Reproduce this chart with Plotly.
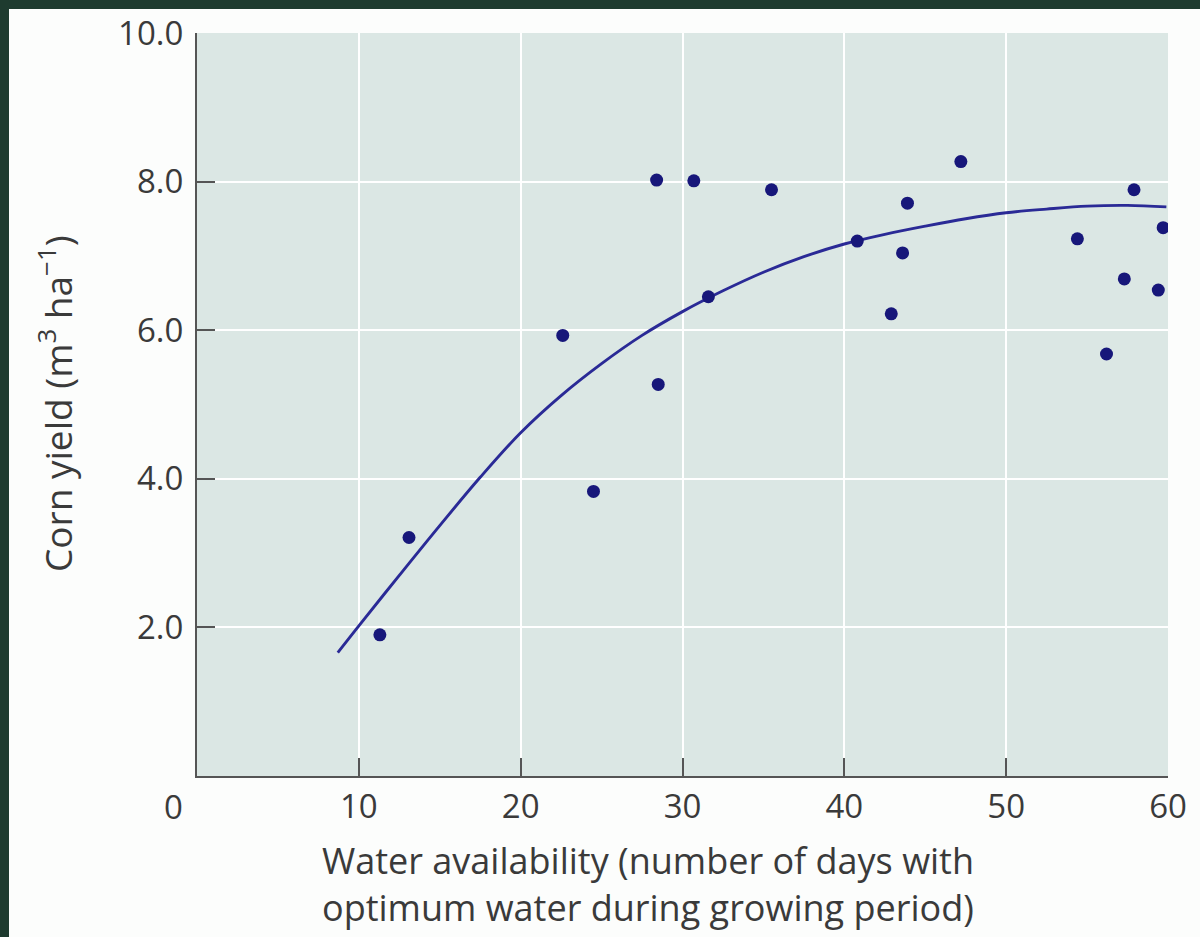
import plotly.graph_objects as go

# Observed data points (water availability days, corn yield)
obs_x = [11.3, 13.1, 22.6, 24.5, 28.4, 28.5, 30.7, 31.6, 35.5, 40.8,
         42.9, 43.6, 43.9, 47.2, 54.4, 56.2, 57.3, 57.9, 59.4, 59.7]
obs_y = [1.90, 3.21, 5.93, 3.83, 8.02, 5.27, 8.01, 6.45, 7.89, 7.20,
         6.22, 7.04, 7.71, 8.27, 7.23, 5.68, 6.69, 7.89, 6.54, 7.38]

# Fitted curve
fit_x = [8.7, 10.0, 12.5, 15.0, 17.5, 20.0, 22.5, 25.0, 27.5, 30.0, 32.5,
         35.0, 37.5, 40.0, 42.5, 45.0, 47.5, 50.0, 52.5, 55.0, 57.5, 59.9]
fit_y = [1.66, 2.02, 2.70, 3.37, 4.02, 4.62, 5.12, 5.55, 5.93, 6.25, 6.53,
         6.78, 6.99, 7.16, 7.29, 7.40, 7.50, 7.58, 7.63, 7.67, 7.68, 7.66]

x_ticks = [10, 20, 30, 40, 50, 60]
x_tick_labels = ["10", "20", "30", "40", "50", "60"]
y_ticks = [2, 4, 6, 8, 10]
y_tick_labels = ["2.0", "4.0", "6.0", "8.0", "10.0"]

x_title = "Water availability (number of days with<br>optimum water during growing period)"
y_title = "Corn yield (m<sup>3</sup> ha<sup>\u22121</sup>)"

FONT = "Open Sans, Noto Sans, DejaVu Sans, sans-serif"
TXT = "#3a3a3a"
AX = "#555555"
W, H = 1200, 937
L, R, T, B = 197, 32, 33, 161
PW, PH = W - L - R, H - T - B

fig = go.Figure()
fig.add_trace(go.Scatter(
    x=fit_x, y=fit_y, mode="lines", line=dict(color="#2a2a96", width=2.9, shape="spline"),
    hoverinfo="skip", showlegend=False))
fig.add_trace(go.Scatter(
    x=obs_x, y=obs_y, mode="markers",
    marker=dict(color="#17177a", size=13, line=dict(width=0)),
    showlegend=False))

def px_x(p):
    return (p - L) / PW

def px_y(p):
    return 1 - (p - T) / PH

shapes = [
    # dark page border (left and top strips)
    dict(type="rect", xref="paper", yref="paper", x0=px_x(-2), x1=px_x(9), y0=px_y(H + 2), y1=px_y(-2),
         fillcolor="#1e3b2f", line=dict(width=0), layer="above"),
    dict(type="rect", xref="paper", yref="paper", x0=px_x(-2), x1=px_x(W + 2), y0=px_y(9), y1=px_y(-2),
         fillcolor="#1e3b2f", line=dict(width=0), layer="above"),
]

annotations = [
    dict(text="0", x=px_x(173), y=px_y(806), xref="paper", yref="paper", showarrow=False,
         xanchor="center", yanchor="middle", font=dict(size=33, color=TXT, family=FONT)),
    dict(text=y_title, x=px_x(55), y=px_y(404),
         xref="paper", yref="paper", showarrow=False, textangle=-90,
         xanchor="center", yanchor="middle", font=dict(size=37, color=TXT, family=FONT)),
    dict(text=x_title, x=px_x(320), y=px_y(884), xref="paper", yref="paper",
         showarrow=False, xanchor="left", yanchor="middle", align="left",
         font=dict(size=36, color=TXT, family=FONT)),
]

fig.update_layout(
    width=W, height=H,
    margin=dict(l=L, r=R, t=T, b=B, autoexpand=False),
    paper_bgcolor="#fcfdfc",
    plot_bgcolor="#dbe7e4",
    font=dict(family=FONT, color=TXT, size=33),
    shapes=shapes,
    annotations=annotations,
    xaxis=dict(range=[0, 60], tickvals=x_ticks, ticktext=x_tick_labels,
               showgrid=True, gridcolor="white", gridwidth=2,
               showline=True, linecolor=AX, linewidth=2,
               ticks="inside", ticklen=18, tickwidth=2, tickcolor=AX,
               ticklabelstandoff=0, zeroline=False, automargin=False,
               tickfont=dict(size=33, color=TXT, family=FONT)),
    yaxis=dict(range=[0, 10], tickvals=y_ticks, ticktext=y_tick_labels,
               showgrid=True, gridcolor="white", gridwidth=2,
               showline=True, linecolor=AX, linewidth=2,
               ticks="inside", ticklen=18, tickwidth=2, tickcolor=AX,
               ticklabelstandoff=5, zeroline=False, automargin=False,
               tickfont=dict(size=33, color=TXT, family=FONT)),
)

fig.write_html("out.html",
               config={"displayModeBar": False},
               post_script="document.body.style.margin='0';document.body.style.overflow='hidden';")
